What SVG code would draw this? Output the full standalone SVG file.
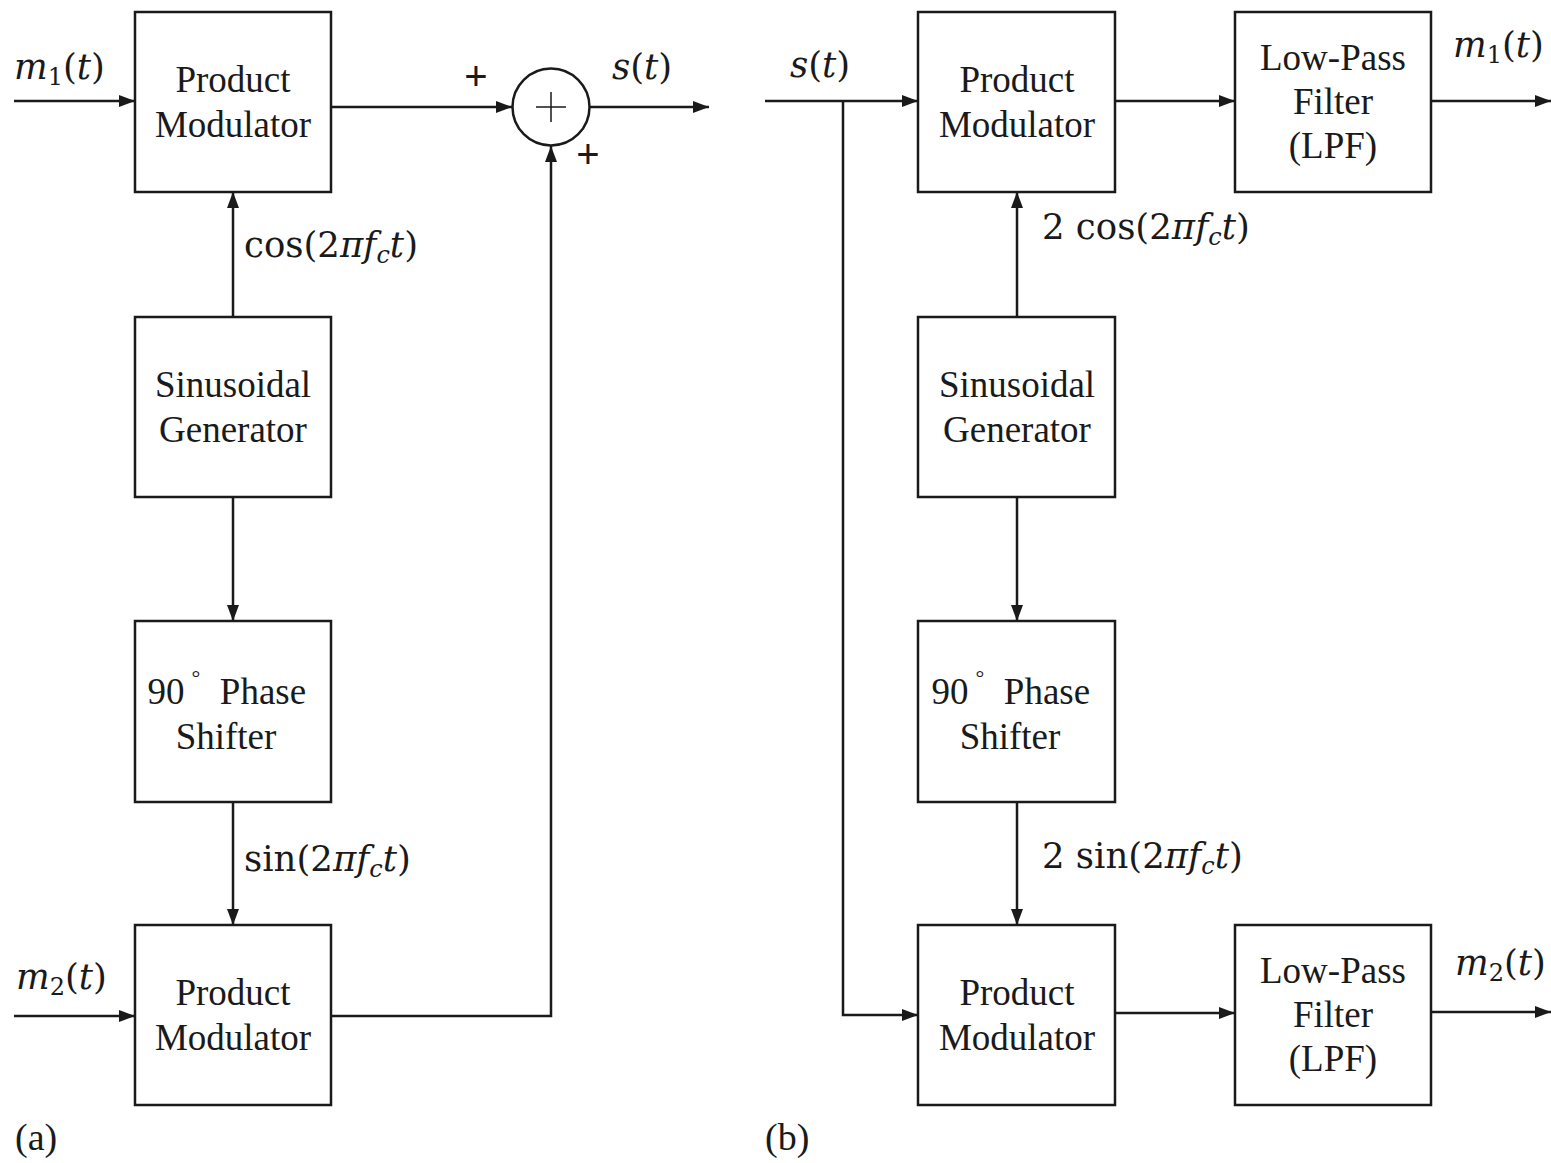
<svg xmlns="http://www.w3.org/2000/svg" width="1551" height="1163" viewBox="0 0 1551 1163">
<defs>
<marker id="arr" viewBox="0 0 16 12" refX="16" refY="6" markerWidth="16" markerHeight="12" markerUnits="userSpaceOnUse" orient="auto">
<path d="M0,0 L16,6 L0,12 Z" fill="#1a1a1a"/>
</marker>
<style>
.box{fill:#fff;stroke:#1a1a1a;stroke-width:2.5}
.ln{fill:none;stroke:#1a1a1a;stroke-width:2.5}
.t{font-family:"Liberation Serif","Times New Roman",serif;font-size:37px;fill:#1a1a1a;text-anchor:middle}
.m{font-family:"DejaVu Serif","Liberation Serif",serif;font-size:35.5px;fill:#1a1a1a}
.i{font-style:italic}
.sub{font-size:24px}
.pl{font-family:"Liberation Sans",sans-serif;font-size:40px;fill:#1a1a1a;text-anchor:middle}
.cap{font-family:"Liberation Serif","Times New Roman",serif;font-size:38px;fill:#1a1a1a}
</style>
</defs>
<rect width="1551" height="1163" fill="#fff"/>

<g id="connectors">
<line class="ln" x1="14" y1="101" x2="135" y2="101" marker-end="url(#arr)"/>
<line class="ln" x1="331" y1="107" x2="512" y2="107" marker-end="url(#arr)"/>
<line class="ln" x1="590" y1="107" x2="709" y2="107" marker-end="url(#arr)"/>
<line class="ln" x1="233" y1="317" x2="233" y2="192" marker-end="url(#arr)"/>
<line class="ln" x1="233" y1="497" x2="233" y2="621" marker-end="url(#arr)"/>
<line class="ln" x1="233" y1="802" x2="233" y2="925" marker-end="url(#arr)"/>
<line class="ln" x1="14" y1="1016" x2="135" y2="1016" marker-end="url(#arr)"/>
<polyline class="ln" points="331,1016 551,1016 551,146" marker-end="url(#arr)"/>
<line class="ln" x1="765" y1="101" x2="918" y2="101" marker-end="url(#arr)"/>
<polyline class="ln" points="843,101 843,1015 918,1015" marker-end="url(#arr)"/>
<line class="ln" x1="1115" y1="101" x2="1235" y2="101" marker-end="url(#arr)"/>
<line class="ln" x1="1431" y1="101" x2="1551" y2="101" marker-end="url(#arr)"/>
<line class="ln" x1="1017" y1="317" x2="1017" y2="192" marker-end="url(#arr)"/>
<line class="ln" x1="1017" y1="497" x2="1017" y2="621" marker-end="url(#arr)"/>
<line class="ln" x1="1017" y1="802" x2="1017" y2="925" marker-end="url(#arr)"/>
<line class="ln" x1="1115" y1="1013" x2="1235" y2="1013" marker-end="url(#arr)"/>
<line class="ln" x1="1431" y1="1012" x2="1551" y2="1012" marker-end="url(#arr)"/>
</g>

<g id="a-pm1">
<rect class="box" x="135" y="12" width="196" height="180"/>
<text class="t" x="233" y="92">Product</text>
<text class="t" x="233" y="137">Modulator</text>
</g>
<g id="a-gen">
<rect class="box" x="135" y="317" width="196" height="180"/>
<text class="t" x="233" y="397">Sinusoidal</text>
<text class="t" x="233" y="442">Generator</text>
</g>
<g id="a-shift">
<rect class="box" x="135" y="621" width="196" height="181"/>
<text class="t" x="166" y="704">90</text>
<text class="t" x="196" y="685" style="font-size:22px">°</text>
<text class="t" x="263" y="704">Phase</text>
<text class="t" x="226" y="749">Shifter</text>
</g>
<g id="a-pm2">
<rect class="box" x="135" y="925" width="196" height="180"/>
<text class="t" x="233" y="1005">Product</text>
<text class="t" x="233" y="1050">Modulator</text>
</g>
<g id="a-sum">
<circle class="ln" cx="551" cy="107" r="38.5"/>
<path d="M536,107 H566 M551,92 V122" stroke="#1a1a1a" stroke-width="1.5" fill="none"/>
<text class="pl" x="476" y="90">+</text>
<text class="pl" x="588" y="168">+</text>
</g>

<g id="b-pm1">
<rect class="box" x="918" y="12" width="197" height="180"/>
<text class="t" x="1017" y="92">Product</text>
<text class="t" x="1017" y="137">Modulator</text>
</g>
<g id="b-lpf1">
<rect class="box" x="1235" y="12" width="196" height="180"/>
<text class="t" x="1333" y="70">Low-Pass</text>
<text class="t" x="1333" y="114">Filter</text>
<text class="t" x="1333" y="158">(LPF)</text>
</g>
<g id="b-gen">
<rect class="box" x="918" y="317" width="197" height="180"/>
<text class="t" x="1017" y="397">Sinusoidal</text>
<text class="t" x="1017" y="442">Generator</text>
</g>
<g id="b-shift">
<rect class="box" x="918" y="621" width="197" height="181"/>
<text class="t" x="950" y="704">90</text>
<text class="t" x="980" y="685" style="font-size:22px">°</text>
<text class="t" x="1047" y="704">Phase</text>
<text class="t" x="1010" y="749">Shifter</text>
</g>
<g id="b-pm2">
<rect class="box" x="918" y="925" width="197" height="180"/>
<text class="t" x="1017" y="1005">Product</text>
<text class="t" x="1017" y="1050">Modulator</text>
</g>
<g id="b-lpf2">
<rect class="box" x="1235" y="925" width="196" height="180"/>
<text class="t" x="1333" y="983">Low-Pass</text>
<text class="t" x="1333" y="1027">Filter</text>
<text class="t" x="1333" y="1071">(LPF)</text>
</g>

<g id="labels">
<text class="m" x="14" y="79"><tspan class="i">m</tspan><tspan class="sub" dy="6">1</tspan><tspan dy="-6">(</tspan><tspan class="i">t</tspan>)</text>
<text class="m" x="612" y="79"><tspan class="i">s</tspan>(<tspan class="i">t</tspan>)</text>
<text class="m" x="244" y="257">cos(2<tspan class="i">π</tspan><tspan class="i">f</tspan><tspan class="i sub" dy="6">c</tspan><tspan class="i" dy="-6">t</tspan>)</text>
<text class="m" x="244" y="871">sin(2<tspan class="i">π</tspan><tspan class="i">f</tspan><tspan class="i sub" dy="6">c</tspan><tspan class="i" dy="-6">t</tspan>)</text>
<text class="m" x="16" y="989"><tspan class="i">m</tspan><tspan class="sub" dy="6">2</tspan><tspan dy="-6">(</tspan><tspan class="i">t</tspan>)</text>
<text class="m" x="790" y="77"><tspan class="i">s</tspan>(<tspan class="i">t</tspan>)</text>
<text class="m" x="1453" y="57"><tspan class="i">m</tspan><tspan class="sub" dy="6">1</tspan><tspan dy="-6">(</tspan><tspan class="i">t</tspan>)</text>
<text class="m" x="1042" y="239">2 cos(2<tspan class="i">π</tspan><tspan class="i">f</tspan><tspan class="i sub" dy="6">c</tspan><tspan class="i" dy="-6">t</tspan>)</text>
<text class="m" x="1042" y="868">2 sin(2<tspan class="i">π</tspan><tspan class="i">f</tspan><tspan class="i sub" dy="6">c</tspan><tspan class="i" dy="-6">t</tspan>)</text>
<text class="m" x="1455" y="975"><tspan class="i">m</tspan><tspan class="sub" dy="6">2</tspan><tspan dy="-6">(</tspan><tspan class="i">t</tspan>)</text>
<text class="cap" x="15" y="1150">(a)</text>
<text class="cap" x="765" y="1150">(b)</text>
</g>
</svg>
